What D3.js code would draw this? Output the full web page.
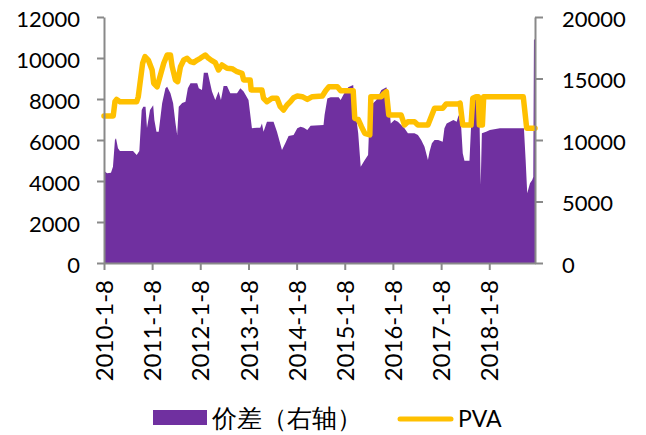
<!DOCTYPE html>
<html>
<head>
<meta charset="utf-8">
<script src="https://cdn.jsdelivr.net/npm/d3@7"></script>
<style>
  html, body { margin: 0; padding: 0; background: #fff; }
  svg { display: block; }
  text { font-family: Lato, "Noto Sans", sans-serif; fill: #000; }
</style>
</head>
<body>
<svg id="chart" width="646" height="435"></svg>
<script>
// Weekly spread (left axis) sampled at turning points
const spreadDates = [
  "2010-01-08","2010-01-31","2010-03-02","2010-03-17","2010-04-01","2010-04-09","2010-04-24","2010-05-09",
  "2010-07-09","2010-08-16","2010-09-13","2010-10-03","2010-10-21","2010-11-02","2010-11-19","2010-11-30",
  "2010-12-23","2011-01-16","2011-01-25","2011-02-10","2011-02-27","2011-03-25","2011-04-19","2011-05-02",
  "2011-05-27","2011-06-16","2011-07-04","2011-07-17","2011-07-29","2011-08-24","2011-09-18","2011-10-06",
  "2011-10-26","2011-12-16","2011-12-28","2012-01-21","2012-02-04","2012-03-05","2012-04-06","2012-05-01",
  "2012-05-26","2012-06-13","2012-07-03","2012-07-29","2012-08-23","2012-10-13","2012-11-07","2012-12-02",
  "2013-01-08","2013-02-03","2013-03-13","2013-04-07","2013-04-20","2013-05-02","2013-05-28","2013-07-17",
  "2013-08-12","2013-09-19","2013-10-14","2013-11-08","2013-12-16","2014-01-13","2014-02-07","2014-03-04",
  "2014-03-30","2014-04-24","2014-07-31","2014-08-08","2014-08-29","2014-09-23","2014-11-23","2014-12-08",
  "2014-12-28","2015-02-03","2015-03-13","2015-04-01","2015-04-20","2015-05-09","2015-06-09","2015-07-04",
  "2015-07-17","2015-08-11","2015-09-05","2015-10-13","2015-11-20","2015-12-08","2015-12-23","2016-01-20",
  "2016-02-15","2016-03-11","2016-04-05","2016-05-01","2016-06-20","2016-07-16","2016-08-10","2016-09-04",
  "2016-09-30","2016-10-12","2016-10-30","2016-11-19","2016-12-17","2017-01-20","2017-02-02","2017-02-19",
  "2017-04-11","2017-05-06","2017-05-21","2017-06-09","2017-06-21","2017-07-04","2017-08-11","2017-08-23",
  "2017-09-05","2017-10-03","2017-10-26","2017-11-04","2017-11-13","2017-12-15","2018-01-13","2018-03-30",
  "2018-09-28","2018-10-11","2018-10-23","2018-11-13","2018-11-30","2018-12-08","2018-12-13","2018-12-21"
];
const spreadValues = [
  4500,4380,4400,4700,6000,6080,5600,5460,
  5460,5460,5270,5460,7460,7620,7620,6585,
  7460,7700,6975,6400,6400,7790,8520,8600,
  8280,7800,6830,6240,7620,7800,7870,8520,
  8770,8770,8520,8440,9280,9280,8360,7950,
  8360,7950,8630,8630,8280,8280,8520,8360,
  7950,6570,6600,6600,6810,6400,6890,6890,
  6400,5510,5840,6200,6240,6570,6650,6600,
  6490,6700,6730,7220,8030,8080,8080,7950,
  8200,8570,8680,7300,6330,4700,5020,5270,
  7460,7790,7950,8440,8570,7950,6810,6975,
  6890,6730,6570,6330,6330,6240,6000,5670,
  5020,5430,5840,6000,6000,5920,6570,6810,
  6975,6890,7220,6650,5350,4990,4990,6650,
  7900,8200,7000,3800,6330,6400,6490,6570,
  6570,5020,3400,3890,4050,4200,10900,10900
];

// PVA price (right axis)
const pvaDates = [
  "2010-01-08","2010-03-19","2010-04-01","2010-04-14","2010-05-09","2010-09-13","2010-09-25","2010-10-08",
  "2010-10-28","2010-11-15","2010-12-10","2011-01-08","2011-01-20","2011-02-15","2011-03-12","2011-04-06",
  "2011-05-02","2011-05-27","2011-06-09","2011-07-04","2011-07-21","2011-08-11","2011-09-05","2011-10-01",
  "2011-10-26","2011-11-20","2011-12-16","2012-01-08","2012-02-15","2012-03-11","2012-04-06","2012-05-01",
  "2012-05-26","2012-06-21","2012-07-29","2012-09-05","2012-10-13","2012-11-20","2012-12-02","2013-01-21",
  "2013-01-28","2013-04-20","2013-05-02","2013-05-28","2013-07-05","2013-08-12","2013-09-06","2013-10-01",
  "2013-10-27","2013-11-21","2013-12-16","2014-01-13","2014-02-20","2014-03-30","2014-05-07","2014-07-22",
  "2014-08-16","2014-09-10","2014-11-13","2014-12-08","2015-03-13","2015-03-25","2015-04-20","2015-05-15",
  "2015-06-09","2015-07-17","2015-07-25","2015-10-13","2015-10-26","2015-11-20","2015-12-08","2016-03-11",
  "2016-04-05","2016-05-01","2016-06-20","2016-07-16","2016-09-30","2016-11-19","2017-01-20","2017-02-15",
  "2017-05-14","2017-06-01","2017-06-21","2017-08-23","2017-09-05","2017-09-30","2017-10-17","2017-10-25",
  "2017-11-17","2017-11-27","2018-09-23","2018-10-19","2018-12-21"
];
const pvaValues = [
  11950,11950,13110,13300,13110,13110,13520,14610,
  16240,16780,16500,15690,14610,14330,15280,16240,
  16910,16910,15960,14880,14740,15960,16500,16640,
  16370,16300,16500,16640,16910,16640,16450,16290,
  15690,16100,15830,15800,15550,15420,14880,14880,
  14070,14070,13390,13110,13390,13390,12710,12440,
  12850,13110,13440,13580,13520,13300,13520,13580,
  14010,14330,14330,14010,14010,11760,11680,11080,
  10540,10410,13520,13520,13710,13930,12030,12030,
  11220,11490,11490,11220,11220,12580,12580,12930,
  12930,13000,11220,11220,13390,13520,13520,11220,
  11220,13520,13520,10950,10950
];

const leftTicks = [0, 2000, 4000, 6000, 8000, 10000, 12000];
const rightTicks = [0, 5000, 10000, 15000, 20000];
const xTickDates = ["2010-01-08","2011-01-08","2012-01-08","2013-01-08","2014-01-08",
                    "2015-01-08","2016-01-08","2017-01-08","2018-01-08"];
const seriesNames = ["价差（右轴）", "PVA"];

const parse = d3.timeParse("%Y-%m-%d");
const fmt = d => `${d.getFullYear()}-${d.getMonth() + 1}-${d.getDate()}`;

const spread = spreadDates.map((d, i) => ({ date: parse(d), value: spreadValues[i] }));
const pva = pvaDates.map((d, i) => ({ date: parse(d), value: pvaValues[i] }));

const plot = { left: 104, right: 535, top: 17, bottom: 263 };
const axisColor = "#898989";
const purple = "#7030A0";
const gold = "#FFC000";

const svg = d3.select("#chart");

const x = d3.scaleTime()
  .domain([parse(spreadDates[0]), parse(spreadDates[spreadDates.length - 1])])
  .range([plot.left, plot.right]);
const yL = d3.scaleLinear().domain([0, 12000]).range([plot.bottom, plot.top]);
const yR = d3.scaleLinear().domain([0, 20000]).range([plot.bottom, plot.top]);

// spread area
svg.append("path")
  .datum(spread)
  .attr("fill", purple)
  .attr("d", d3.area().x(d => x(d.date)).y0(yL(0)).y1(d => yL(d.value)));

// PVA line
svg.append("path")
  .datum(pva)
  .attr("fill", "none")
  .attr("stroke", gold)
  .attr("stroke-width", 5.5)
  .attr("stroke-linejoin", "round")
  .attr("stroke-linecap", "round")
  .attr("d", d3.line().x(d => x(d.date)).y(d => yR(d.value)));

function styleAxis(g) {
  g.select(".domain").attr("stroke", axisColor).attr("stroke-width", 2);
  g.selectAll(".tick line").attr("stroke", axisColor).attr("stroke-width", 2);
  g.selectAll(".tick text").attr("font-family", "Lato, 'Noto Sans', sans-serif")
    .attr("font-size", 22).attr("fill", "#000");
}

// left axis
svg.append("g")
  .attr("transform", `translate(${plot.left},0)`)
  .call(d3.axisLeft(yL).tickValues(leftTicks).tickSizeInner(7).tickSizeOuter(0).tickPadding(17)
    .tickFormat(d3.format("d")))
  .call(styleAxis)
  .call(g => g.selectAll(".tick text").attr("dy", "0.42em"));

// right axis
svg.append("g")
  .attr("transform", `translate(${plot.right},0)`)
  .call(d3.axisRight(yR).tickValues(rightTicks).tickSizeInner(8).tickSizeOuter(0).tickPadding(19)
    .tickFormat(d3.format("d")))
  .call(styleAxis)
  .call(g => g.selectAll(".tick text").attr("dy", "0.42em"));

// bottom axis
svg.append("g")
  .attr("transform", `translate(0,${plot.bottom})`)
  .call(d3.axisBottom(x).tickValues(xTickDates.map(parse)).tickSizeInner(7).tickSizeOuter(0)
    .tickFormat(fmt))
  .call(styleAxis)
  .call(g => g.selectAll(".tick text")
    .attr("font-size", 24)
    .attr("text-anchor", "end")
    .attr("transform", "translate(0,17) rotate(-90)")
    .attr("x", 0).attr("y", 0).attr("dy", "0.36em"));

// legend
const lg = svg.append("g");
lg.append("rect").attr("x", 153).attr("y", 410).attr("width", 54).attr("height", 15).attr("fill", purple);
lg.append("text").attr("x", 212).attr("y", 427)
  .attr("font-family", "'Noto Sans CJK SC', sans-serif").attr("font-size", 25)
  .text(seriesNames[0]);
lg.append("line").attr("x1", 400).attr("x2", 451).attr("y1", 419).attr("y2", 419)
  .attr("stroke", gold).attr("stroke-width", 5).attr("stroke-linecap", "round");
lg.append("text").attr("x", 458).attr("y", 427)
  .attr("font-size", 23)
  .text(seriesNames[1]);
</script>
</body>
</html>
